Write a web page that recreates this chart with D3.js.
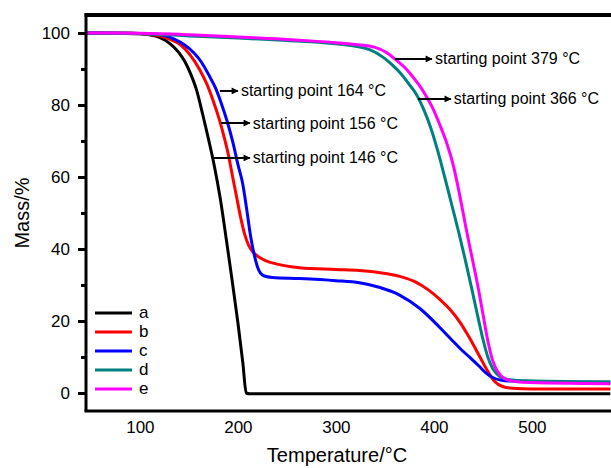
<!DOCTYPE html>
<html>
<head>
<meta charset="utf-8">
<script src="https://cdn.jsdelivr.net/npm/d3@7"></script>
<style>
  body { margin: 0; background: #fff; }
  svg { display: block; font-family: "Liberation Sans", Arial, sans-serif; }
</style>
</head>
<body>
<div class="chart-area"></div>
<script>
// kurver (temperatur i °C, masse i %)
var seriesNames = ["a", "b", "c", "d", "e"];
var seriesColors = ["#000000", "#ff0000", "#0000ff", "#008080", "#ff00ff"];

var tempA = [45, 90, 110, 120, 131, 140, 146, 152, 158, 164, 170, 176, 182, 188, 194, 200, 205, 208.5, 212, 580];
var massA = [100, 100, 99.5, 98.8, 97, 94.5, 92, 88.5, 84, 77.5, 70.5, 63, 54, 43, 31.5, 19.5, 8.5, 0, -0.2, -0.2];

var tempB = [45, 100, 120, 131, 141, 151, 161, 168, 175, 181, 186, 190, 195, 199, 203, 207, 211, 215, 220, 228, 240, 263, 300, 324, 345, 365, 380, 395, 406, 416, 427, 437, 447, 455, 462, 470, 480, 500, 580];
var massB = [100, 99.8, 99.2, 98.2, 96.8, 94, 89.8, 86, 81, 76, 71, 66.5, 59.5, 54, 48.5, 44, 41, 39.3, 38, 36.8, 35.8, 34.8, 34.3, 34, 33.4, 32.4, 31, 28.5, 26, 23.3, 19.5, 15, 10, 6, 3.2, 1.8, 1.3, 1.1, 1.1];

var tempC = [45, 110, 125, 135, 145, 155, 163, 170, 177, 183, 189, 195, 200, 205, 209, 213, 217, 220, 223, 227, 235, 263, 300, 324, 345, 365, 386, 406, 418, 427, 437, 446, 453, 460, 468, 480, 580];
var massC = [100, 99.8, 99.3, 98.3, 96.8, 94.5, 91.8, 88.5, 84.8, 80.5, 75.5, 69.5, 63.5, 58, 51, 43.5, 38, 35, 33.3, 32.5, 32.1, 31.8, 31.2, 30.6, 29.3, 27.2, 23.4, 18.2, 14.8, 12.3, 9.8, 7.5, 5.6, 4.3, 3.6, 3.3, 2.9];

var tempD = [45, 100, 150, 200, 250, 300, 320, 335, 348, 358, 366, 374, 382, 390, 397, 404, 411, 418, 425, 432, 439, 445, 450, 455, 460, 466, 473, 485, 580];
var massD = [100, 99.8, 99.2, 98.6, 97.9, 97, 96.3, 95.3, 93.3, 91, 88.8, 86, 83, 78.5, 73.5, 67.2, 60, 52.5, 45, 37, 28.5, 21, 15, 10, 6.8, 4.8, 3.9, 3.5, 3.1];

var tempE = [45, 100, 150, 200, 263, 300, 320, 340, 352, 360, 370, 378, 385, 392, 399, 406, 413, 420, 427, 433, 439, 445, 450, 455, 460, 465, 470, 477, 490, 580];
var massE = [100, 99.9, 99.5, 98.9, 98, 97.3, 96.8, 96, 94.5, 92.8, 90.5, 88, 85.5, 82.5, 79, 74.5, 69.5, 63, 54, 45.5, 37.5, 29.5, 22, 14.5, 9, 6, 4.4, 3.5, 3, 2.6];

var xTicks = [100, 200, 300, 400, 500];
var yTicks = [0, 20, 40, 60, 80, 100];
var yMinor = [10, 30, 50, 70, 90];

// pile med tekst (fra-temperatur, til-temperatur, masse)
var annoText = ["starting point 164 °C", "starting point 156 °C", "starting point 146 °C", "starting point 379 °C", "starting point 366 °C"];
var annoFrom = [181.6, 182.7, 173.5, 360.2, 383.7];
var annoTo = [200, 212.2, 212.2, 398, 417.3];
var annoMass = [83.9, 75, 65.3, 92.8, 81.7];

var width = 611, height = 468;

var temps = [tempA, tempB, tempC, tempD, tempE];
var masses = [massA, massB, massC, massD, massE];

var svg = d3.select(".chart-area")
    .append("svg")
    .attr("width", width)
    .attr("height", height);

var defs = svg.append("defs");
defs.append("marker")
    .attr("id", "arrow")
    .attr("viewBox", "0 0 10 10")
    .attr("refX", 9)
    .attr("refY", 5)
    .attr("markerWidth", 9)
    .attr("markerHeight", 7)
    .attr("markerUnits", "userSpaceOnUse")
    .attr("orient", "auto")
    .append("path")
    .attr("d", "M0,0 L10,5 L0,10 Z")
    .attr("fill", "#000");

// skalaer
var x = d3.scaleLinear().domain([45, 590]).range([86, 86 + 545 * 0.98]);
var y = d3.scaleLinear().domain([-5, 105]).range([411, 15]);

// kurverne
var line = d3.line()
    .x(function(d) { return x(d[0]); })
    .y(function(d) { return y(d[1]); })
    .curve(d3.curveMonotoneX);

seriesNames.forEach(function(name, i) {
    var pts = temps[i].map(function(t, j) { return [t, masses[i][j]]; });
    svg.append("path")
        .datum(pts)
        .attr("d", line)
        .attr("fill", "none")
        .attr("stroke", seriesColors[i])
        .attr("stroke-width", 3)
        .attr("stroke-linejoin", "round");
});

// y-akse med store og små streger
var yAxis = svg.append("g")
    .attr("transform", "translate(" + x(45) + ",0)")
    .call(d3.axisLeft(y).tickValues(yTicks).tickSize(8).tickPadding(8));
svg.append("g")
    .attr("transform", "translate(" + x(45) + ",0)")
    .call(d3.axisLeft(y).tickValues(yMinor).tickSize(5).tickFormat(""))
    .select(".domain").remove();

var xAxis = svg.append("g")
    .attr("transform", "translate(0," + y(-5) + ")")
    .call(d3.axisBottom(x).tickValues(xTicks).tickSize(0).tickPadding(10));

svg.selectAll(".domain").attr("stroke-width", 3).attr("stroke", "#000");
svg.selectAll(".tick line").attr("stroke-width", 3).attr("stroke", "#000");
svg.selectAll(".tick text")
    .attr("font-size", 17)
    .attr("font-family", "Liberation Sans, Arial, sans-serif")
    .attr("fill", "#000");
yAxis.select(".domain").attr("d", "M0," + y(-5) + "V" + (y(105) - 1.5));
xAxis.select(".domain").attr("d", "M" + (x(45) - 1.5) + ",0H" + width);

// topkant
svg.append("line")
    .attr("x1", x(45) - 1.5).attr("x2", width)
    .attr("y1", y(105)).attr("y2", y(105))
    .attr("stroke", "#000")
    .attr("stroke-width", 4);

// aksetitler
svg.append("text")
    .attr("x", 337)
    .attr("y", 462)
    .attr("text-anchor", "middle")
    .attr("font-size", 20)
    .text("Temperature/°C");

svg.append("text")
    .attr("transform", "translate(29," + ((y(105) + y(-5)) / 2) + ") rotate(-90)")
    .attr("text-anchor", "middle")
    .attr("font-size", 20)
    .text("Mass/%");

// pile og tekster
annoText.forEach(function(t, i) {
    svg.append("line")
        .attr("x1", x(annoFrom[i])).attr("x2", x(annoTo[i]))
        .attr("y1", y(annoMass[i])).attr("y2", y(annoMass[i]))
        .attr("stroke", "#000")
        .attr("stroke-width", 2)
        .attr("marker-end", "url(#arrow)");
    svg.append("text")
        .attr("x", x(annoTo[i]) + 3)
        .attr("y", y(annoMass[i]) + 5.5)
        .attr("font-size", 16)
        .text(t);
});

// signaturforklaring
var legend = svg.append("g");
seriesNames.forEach(function(name, i) {
    var ly = 313 + i * 19;
    legend.append("line")
        .attr("x1", 95).attr("x2", 132)
        .attr("y1", ly).attr("y2", ly)
        .attr("stroke", seriesColors[i])
        .attr("stroke-width", 3);
    legend.append("text")
        .attr("x", 139)
        .attr("y", ly + 5)
        .attr("font-size", 17)
        .text(name);
});
</script>
</body>
</html>
